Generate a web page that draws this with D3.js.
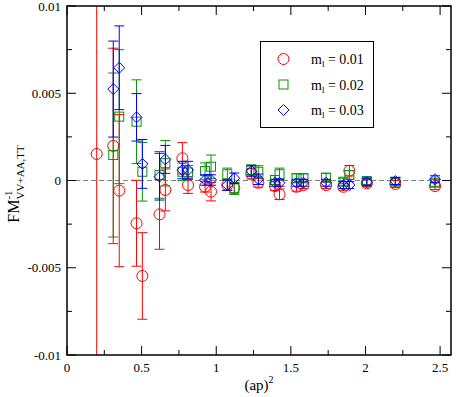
<!DOCTYPE html>
<html><head><meta charset="utf-8">
<script src="https://cdn.jsdelivr.net/npm/d3@7"></script>
<style>body{margin:0;background:#fff}svg{display:block}text{font-family:"Liberation Serif","Times New Roman",serif}</style>
</head><body><svg id="c" width="457" height="397"></svg>
<script>
// ---- data ----
const xs1 = [0.199,0.310,0.350,0.466,0.505,0.620,0.659,0.773,0.811,0.925,0.965,1.074,1.121,1.235,1.282,1.394,1.424,1.538,1.584,1.736,1.852,1.892,2.009,2.200,2.466];
const y1  = [0.00152,0.00198,-0.00058,-0.00245,-0.00547,-0.00194,-0.00054,0.00127,-0.00026,-0.00036,-0.00064,-0.00026,-0.00042,0.00039,-0.00013,-0.00032,-0.00079,-0.00036,-0.00026,-0.00026,-0.00036,0.00056,-0.00016,-0.00020,-0.00032];
const e1  = [0.03,0.0056,0.00436,0.00246,0.00248,0.0020,0.0012,0.0009,0.00048,0.0003,0.00053,0.0003,0.0003,0.0003,0.00025,0.00025,0.0003,0.00025,0.0002,0.0002,0.0002,0.0003,0.0002,0.0002,0.0002];
const xs2 = xs1.slice(1);
const y2  = [0.00146,0.00366,0.00337,0.00050,0.00032,0.00099,0.00050,0.00046,0.00054,0.00079,0.00036,-0.00045,0.00060,0.00050,0.00003,0.00036,0.00013,0.00013,0.00016,-0.00007,0.00032,-0.00003,-0.00007,-0.00013];
const e2  = [0.0047,0.00384,0.0024,0.00168,0.00134,0.0013,0.0005,0.0004,0.00047,0.00067,0.00035,0.00035,0.0003,0.00035,0.00025,0.00035,0.00025,0.00025,0.00025,0.0002,0.00025,0.0002,0.0002,0.0002];
const xs3 = xs1.slice(1);
const y3  = [0.00524,0.00646,0.00362,0.00095,0.00022,0.00121,0.00060,0.00060,0.00003,0.00003,-0.00026,0.00013,0.00054,0.00007,-0.00013,-0.00013,-0.00013,-0.00013,-0.00013,-0.00026,-0.00026,-0.00010,-0.00003,0.00007];
const e3  = [0.00275,0.0024,0.00136,0.0014,0.00134,0.0008,0.0005,0.0005,0.0003,0.0003,0.0003,0.0003,0.0003,0.0003,0.0002,0.0002,0.0002,0.0002,0.0002,0.0002,0.0002,0.0002,0.0002,0.0002];
const seriesNames = ["0.01","0.02","0.03"];
const xTicks = [0,0.5,1,1.5,2,2.5];
const xTickLabels = ["0","0.5","1","1.5","2","2.5"];
const yTicks = [-0.01,-0.005,0,0.005,0.01];
const yTickLabels = ["-0.01","-0.005","0","0.005","0.01"];

// ---- chart ----
const svg = d3.select("#c");
const L=67,R=451,T=6,B=355;
const x = d3.scaleLinear().domain([0,2.573]).range([L,R]);
const y = d3.scaleLinear().domain([-0.01,0.01]).range([B,T]);
const colors = ["#ff0000","#0a930a","#0000ff"];
const shapes = ["circle","square","diamond"];

svg.append("defs").append("clipPath").attr("id","pc").append("rect")
  .attr("x",L).attr("y",T).attr("width",R-L).attr("height",B-T);

// zero line
svg.append("line").attr("x1",L).attr("x2",R).attr("y1",y(0)).attr("y2",y(0))
  .attr("stroke","#808080").attr("stroke-width",1).attr("stroke-dasharray","5,3");

const g = svg.append("g").attr("clip-path","url(#pc)");
const sets = [[xs1,y1,e1],[xs2,y2,e2],[xs3,y3,e3]];
function marker(sel, shape, cx, cy, col){
  if(shape==="circle") sel.append("circle").attr("cx",cx).attr("cy",cy).attr("r",5.5)
     .attr("fill","none").attr("stroke",col).attr("stroke-width",1);
  else if(shape==="square") sel.append("rect").attr("x",cx-4.5).attr("y",cy-4.5).attr("width",9).attr("height",9)
     .attr("fill","none").attr("stroke",col).attr("stroke-width",1);
  else sel.append("path").attr("d",`M${cx},${cy-5.5}L${cx+5.5},${cy}L${cx},${cy+5.5}L${cx-5.5},${cy}Z`)
     .attr("fill","none").attr("stroke",col).attr("stroke-width",1);
}
sets.forEach(([xv,yv,ev],k)=>{
  const col=colors[k];
  const sg=g.append("g");
  xv.forEach((xx,i)=>{
    const px=x(xx), top=y(yv[i]+ev[i]), bot=y(yv[i]-ev[i]);
    sg.append("line").attr("x1",px).attr("x2",px).attr("y1",top).attr("y2",bot).attr("stroke",col).attr("stroke-width",1);
    sg.append("line").attr("x1",px-5).attr("x2",px+5).attr("y1",top).attr("y2",top).attr("stroke",col).attr("stroke-width",1);
    sg.append("line").attr("x1",px-5).attr("x2",px+5).attr("y1",bot).attr("y2",bot).attr("stroke",col).attr("stroke-width",1);
  });
  xv.forEach((xx,i)=>marker(sg,shapes[k],x(xx),y(yv[i]),col));
});

// frame
svg.append("rect").attr("x",L).attr("y",T).attr("width",R-L).attr("height",B-T)
  .attr("fill","none").attr("stroke","#000").attr("stroke-width",1.5);

// ticks (inward, all sides)
const ax = svg.append("g").attr("stroke","#000").attr("stroke-width",1);
const xMinor = d3.range(0.25,2.6,0.5);
xTicks.forEach(t=>{ax.append("line").attr("x1",x(t)).attr("x2",x(t)).attr("y1",B).attr("y2",B-9);
  ax.append("line").attr("x1",x(t)).attr("x2",x(t)).attr("y1",T).attr("y2",T+9);});
xMinor.forEach(t=>{ax.append("line").attr("x1",x(t)).attr("x2",x(t)).attr("y1",B).attr("y2",B-5);
  ax.append("line").attr("x1",x(t)).attr("x2",x(t)).attr("y1",T).attr("y2",T+5);});
const yMinor=[-0.0075,-0.0025,0.0025,0.0075];
yTicks.forEach(t=>{ax.append("line").attr("x1",L).attr("x2",L+9).attr("y1",y(t)).attr("y2",y(t));
  ax.append("line").attr("x1",R).attr("x2",R-9).attr("y1",y(t)).attr("y2",y(t));});
yMinor.forEach(t=>{ax.append("line").attr("x1",L).attr("x2",L+5).attr("y1",y(t)).attr("y2",y(t));
  ax.append("line").attr("x1",R).attr("x2",R-5).attr("y1",y(t)).attr("y2",y(t));});

// tick labels
xTicks.forEach((t,i)=>svg.append("text").attr("x",x(t)).attr("y",372).attr("text-anchor","middle")
  .attr("font-size",13).text(xTickLabels[i]));
yTicks.forEach((t,i)=>svg.append("text").attr("x",61).attr("y",y(t)+4.5).attr("text-anchor","end")
  .attr("font-size",13).text(yTickLabels[i]));

// axis titles
const xt = svg.append("text").attr("x",259).attr("y",390).attr("text-anchor","middle").attr("font-size",15);
xt.append("tspan").text("(ap)");
xt.append("tspan").attr("dy",-7).attr("font-size",10).text("2");

const yt = svg.append("text").attr("transform","translate(19,184) rotate(-90)").attr("text-anchor","middle").attr("font-size",16);
yt.append("tspan").text("FM");
yt.append("tspan").attr("dy",-7).attr("font-size",11).text("-1");
yt.append("tspan").attr("dx",-9).attr("dy",12).attr("font-size",11).text("VV+AA,TT");

// legend
svg.append("rect").attr("x",260.5).attr("y",41.5).attr("width",113).attr("height",86)
  .attr("fill","#fff").attr("stroke","#000").attr("stroke-width",1);
const ly=[59,84.5,110];
seriesNames.forEach((nm,k)=>{
  marker(svg,shapes[k],283.5,ly[k],colors[k]);
  const t=svg.append("text").attr("x",311).attr("y",ly[k]+5).attr("font-size",14);
  t.append("tspan").text("m");
  t.append("tspan").attr("dy",3).attr("font-size",9).text("l");
  t.append("tspan").attr("dy",-3).text(" = "+nm);
});
</script></body></html>
